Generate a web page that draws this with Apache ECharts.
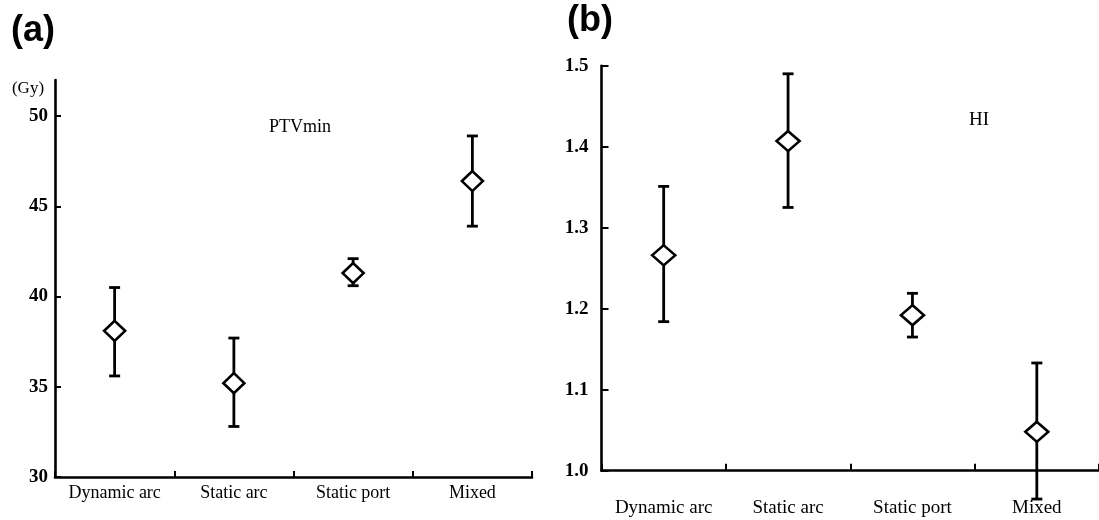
<!DOCTYPE html>
<html>
<head>
<meta charset="utf-8">
<script src="https://cdn.jsdelivr.net/npm/echarts@6/dist/echarts.min.js"></script>
<style>html,body{margin:0;padding:0;background:#fff}#c{width:1099px;height:520px}</style>
</head>
<body>
<div id="c"></div>
<script>
const categories = ['Dynamic arc', 'Static arc', 'Static port', 'Mixed'];
const ptvMean = [38.1, 35.2, 41.3, 46.4];
const ptvLow  = [35.6, 32.8, 40.6, 43.9];
const ptvHigh = [40.5, 37.7, 42.1, 48.9];
const hiMean = [1.266, 1.407, 1.192, 1.048];
const hiLow  = [1.184, 1.325, 1.165, 0.965];
const hiHigh = [1.351, 1.490, 1.219, 1.133];
const ptvTicks = [30, 35, 40, 45, 50];
const hiTicks = [1.0, 1.1, 1.2, 1.3, 1.4, 1.5];

const serif = 'Liberation Serif';
const black = '#000';

function errRender(params, api) {
  const x = api.value(0);
  const lo = api.coord([x, api.value(1)]);
  const hi = api.coord([x, api.value(2)]);
  const w = 5.5;
  const st = { stroke: black, lineWidth: 2.8 };
  return {
    type: 'group',
    children: [
      { type: 'line', shape: { x1: lo[0], y1: lo[1], x2: hi[0], y2: hi[1] }, style: st },
      { type: 'line', shape: { x1: lo[0] - w, y1: lo[1], x2: lo[0] + w, y2: lo[1] }, style: st },
      { type: 'line', shape: { x1: hi[0] - w, y1: hi[1], x2: hi[0] + w, y2: hi[1] }, style: st }
    ]
  };
}

const axisLineStyle = { show: true, lineStyle: { color: black, width: 2.6 } };
const txt = (text, x, y, size, weight, family) => ({
  type: 'text', x: x, y: y, silent: true,
  style: { text: text, fill: black, font: (weight || 'normal') + ' ' + size + 'px "' + (family || serif) + '"',
    textAlign: 'center', textVerticalAlign: 'middle' }
});

const chart = echarts.init(document.getElementById('c'));
chart.setOption({
  animation: false,
  backgroundColor: '#fff',
  graphic: [
    txt('(a)', 33, 31, 36, 'bold', 'Liberation Sans'),
    txt('(b)', 590, 21, 36, 'bold', 'Liberation Sans'),
    txt('PTVmin', 300, 127, 18),
    txt('HI', 979, 120, 19),
    txt('(Gy)', 28, 89, 17)
  ],
  grid: [
    { left: 55, top: 80, width: 477, height: 397 },
    { left: 601.5, top: 65.7, width: 506, height: 405 }
  ],
  xAxis: [
    {
      gridIndex: 0, type: 'category', data: categories, boundaryGap: true,
      axisLine: axisLineStyle,
      axisTick: { show: true, inside: true, length: 6, interval: 0, lineStyle: { color: black, width: 2 } },
      axisLabel: { color: black, fontFamily: serif, fontSize: 18, margin: 7, interval: 0 },
      splitLine: { show: false }
    },
    {
      gridIndex: 1, type: 'category', data: categories, boundaryGap: true,
      axisLine: axisLineStyle,
      axisTick: { show: true, inside: true, length: 7, interval: 0, lineStyle: { color: black, width: 2 } },
      axisLabel: { color: black, fontFamily: serif, fontSize: 19, margin: 28, interval: 0 },
      splitLine: { show: false }
    }
  ],
  yAxis: [
    {
      gridIndex: 0, type: 'value', min: 30, max: 52,
      axisLine: axisLineStyle,
      axisTick: { show: true, inside: true, length: 6, customValues: ptvTicks, lineStyle: { color: black, width: 2 } },
      axisLabel: { color: black, fontFamily: serif, fontWeight: 'bold', fontSize: 19, margin: 7, customValues: ptvTicks },
      splitLine: { show: false }
    },
    {
      gridIndex: 1, type: 'value', min: 1.0, max: 1.5,
      axisLine: axisLineStyle,
      axisTick: { show: true, inside: true, length: 7, customValues: hiTicks, lineStyle: { color: black, width: 2 } },
      axisLabel: { color: black, fontFamily: serif, fontWeight: 'bold', fontSize: 19, margin: 13, customValues: hiTicks,
        formatter: v => v.toFixed(1) },
      splitLine: { show: false }
    }
  ],
  series: [
    {
      type: 'custom', xAxisIndex: 0, yAxisIndex: 0, clip: false,
      data: categories.map((c, i) => [i, ptvLow[i], ptvHigh[i]]),
      renderItem: errRender, encode: { x: 0, y: [1, 2] }, z: 2
    },
    {
      type: 'scatter', xAxisIndex: 0, yAxisIndex: 0,
      data: categories.map((c, i) => [i, ptvMean[i]]),
      symbol: 'diamond', symbolSize: [21, 20],
      itemStyle: { color: '#fff', borderColor: black, borderWidth: 2.6, opacity: 1 }, z: 3
    },
    {
      type: 'custom', xAxisIndex: 1, yAxisIndex: 1, clip: false,
      data: categories.map((c, i) => [i, hiLow[i], hiHigh[i]]),
      renderItem: errRender, encode: { x: 0, y: [1, 2] }, z: 2
    },
    {
      type: 'scatter', xAxisIndex: 1, yAxisIndex: 1,
      data: categories.map((c, i) => [i, hiMean[i]]),
      symbol: 'diamond', symbolSize: [23, 20],
      itemStyle: { color: '#fff', borderColor: black, borderWidth: 2.6, opacity: 1 }, z: 3
    }
  ]
});
</script>
</body>
</html>
